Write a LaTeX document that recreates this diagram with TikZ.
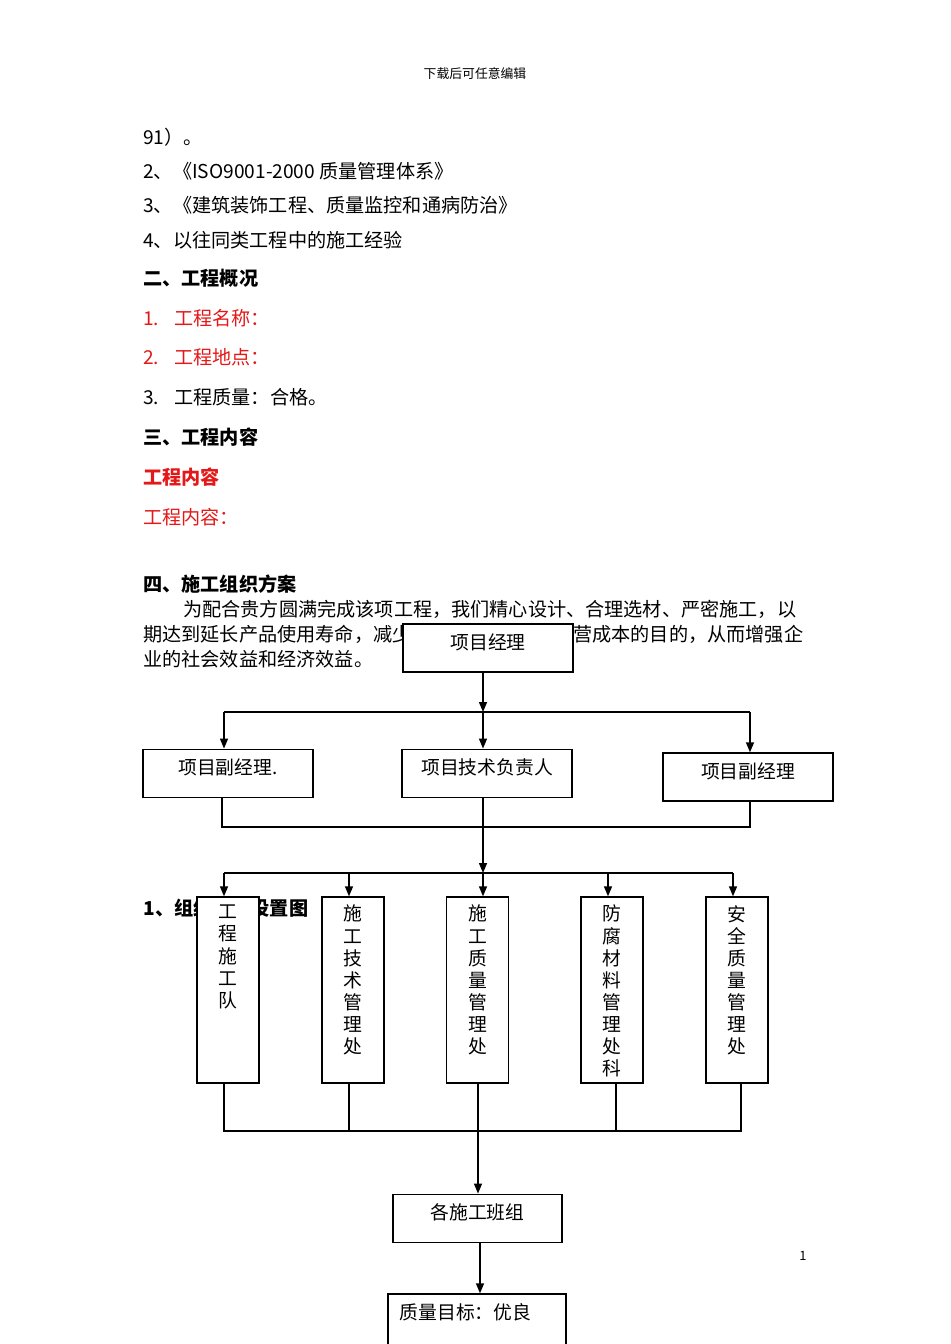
\documentclass[tikz,border=0pt]{standalone}
\usepackage{fontspec}
\setmainfont{Noto Sans CJK SC}
\usetikzlibrary{arrows.meta,positioning}

\definecolor{docred}{RGB}{228,24,24}

\tikzset{
  txt/.style={anchor=west, inner sep=0pt, font=\fontsize{10.9}{13}\selectfont},
  head/.style={anchor=west, inner sep=0pt, font=\fontsize{10.9}{13}\selectfont\bfseries},
  box/.style={draw, fill=white, line width=0.8pt, minimum width=3.4cm, minimum height=0.97cm, inner sep=0pt},
  vbox/.style={box, minimum width=1.24cm, minimum height=3.72cm},
  boxlab/.style={anchor=north, inner sep=0pt, yshift=-0.2cm, font=\fontsize{10.7}{13}\selectfont},
  vlab/.style={anchor=north, inner sep=0pt, yshift=-0.17cm, align=center, font=\fontsize{10.7}{12.6}\selectfont},
  arr/.style={-{Triangle[length=0.2cm,width=0.16cm]}, line width=0.8pt},
  bus/.style={line width=0.8pt}
}

\begin{document}
\begin{tikzpicture}[x=0.02cm, y=-0.02cm]

\useasboundingbox (0,0) rectangle (950,1344);
\clip (0,0) rectangle (950,1344); % page size

% page head
\node[inner sep=0pt, font=\fontsize{7.3}{9}\selectfont] (pagehead) at (475,74) {下载后可任意编辑};

% text
\node[txt] (t91) at (143,137) {91）。};
\node[txt] (t2) at (143,171) {2、《ISO9001-2000 质量管理体系》};
\node[txt] (t3) at (143,205) {3、《建筑装饰工程、质量监控和通病防治》};
\node[txt] (t4) at (143,240) {4、以往同类工程中的施工经验};
\node[head] (h2) at (143,278) {二、工程概况};
\node[txt, text=docred] (name) at (143,318) {1.\hspace{0.3cm}工程名称：};
\node[txt, text=docred] (place) at (143,357) {2.\hspace{0.3cm}工程地点：};
\node[txt] (qual) at (143,397) {3.\hspace{0.3cm}工程质量：合格。};
\node[head] (h3) at (143,437) {三、工程内容};
\node[head, text=docred] (cont) at (143,477) {工程内容};
\node[txt, text=docred] (cont2) at (143,517) {工程内容：};
\node[head] (h4) at (143,584) {四、施工组织方案};
\node[txt] (par1) at (183,609) {为配合贵方圆满完成该项工程，我们精心设计、合理选材、严密施工，以};
\node[txt] (par2a) at (143,634) {期达到延长产品使用寿命，减少};
\node[txt] (par2b) at (573,634) {营成本的目的，从而增强企};
\node[txt] (par3) at (143,659) {业的社会效益和经济效益。};
\node[head] (h41) at (143,908) {1、组织机构设置图};
\node[inner sep=0pt, font=\fontsize{7.3}{9}\selectfont] (pageno) at (803,1256) {1};

% chart boxes
\node[box, minimum height=0.96cm, label={[boxlab]north:项目经理}] (pm) at (488,648) {};
\node[box, label={[boxlab]north:项目副经理.}] (dep1) at (228,773.5) {};
\node[box, label={[boxlab]north:项目技术负责人}] (tech) at (487,773.5) {};
\node[box, minimum height=0.96cm, label={[boxlab]north:项目副经理}] (dep2) at (748,777) {};

\node[vbox, label={[vlab]north:工\\程\\施\\工\\队}] (team) at (228,990) {};
\node[vbox, label={[vlab]north:施\\工\\技\\术\\管\\理\\处}] (techoff) at (353,990) {};
\node[vbox, label={[vlab]north:施\\工\\质\\量\\管\\理\\处}] (qoff) at (477.5,990) {};
\node[vbox, label={[vlab]north:防\\腐\\材\\料\\管\\理\\处\\科}] (matoff) at (612,990) {};
\node[vbox, label={[vlab]north:安\\全\\质\\量\\管\\理\\处}] (safeoff) at (737,990) {};

\node[box, minimum width=3.38cm, label={[boxlab]north:各施工班组}] (crew) at (477.5,1218.5) {};
\node[box, minimum width=3.56cm, minimum height=1.04cm,
  label={[anchor=north west, inner sep=0pt, xshift=0.24cm, yshift=-0.2cm, font=\fontsize{10.7}{13}\selectfont]north west:质量目标：优良}] (goal) at (477,1320) {};

% bus points
\coordinate (b1l) at (224,712);
\coordinate (b1m) at (483,712);
\coordinate (b1r) at (750,712);
\coordinate (b2l) at (222,827);
\coordinate (b2r) at (750,827);
\coordinate (b3l) at (224,873);
\coordinate (b3b) at (349,873);
\coordinate (b3m) at (483,873);
\coordinate (b3d) at (608,873);
\coordinate (b3r) at (733,873);
\coordinate (b4l) at (224,1131);
\coordinate (b4b) at (349,1131);
\coordinate (b4m) at (478,1131);
\coordinate (b4d) at (616,1131);
\coordinate (b4r) at (741,1131);

% connectors
\draw[arr] (pm.south -| b1m) -- (b1m);
\draw[bus] (b1l) -- (b1r);
\draw[arr] (b1l) -- (dep1.north -| b1l);
\draw[arr] (b1m) -- (tech.north -| b1m);
\draw[arr] (b1r) -- (dep2.north -| b1r);

\draw[bus] (dep1.south -| b2l) -- (b2l) -- (b2r) -- (dep2.south -| b2r);
\draw[arr] (tech.south -| b3m) -- (b3m);
\draw[bus] (b3l) -- (b3r);
\draw[arr] (b3l) -- (team.north -| b3l);
\draw[arr] (b3b) -- (techoff.north -| b3b);
\draw[arr] (b3m) -- (qoff.north -| b3m);
\draw[arr] (b3d) -- (matoff.north -| b3d);
\draw[arr] (b3r) -- (safeoff.north -| b3r);

\draw[bus] (team.south -| b4l) -- (b4l) -- (b4r) -- (safeoff.south -| b4r);
\draw[bus] (techoff.south -| b4b) -- (b4b);
\draw[bus] (matoff.south -| b4d) -- (b4d);
\draw[arr] (qoff.south -| b4m) -- (crew.north -| b4m);
\draw[arr] (crew.south -| 480,0) -- (goal.north -| 480,0);

\end{tikzpicture}
\end{document}
